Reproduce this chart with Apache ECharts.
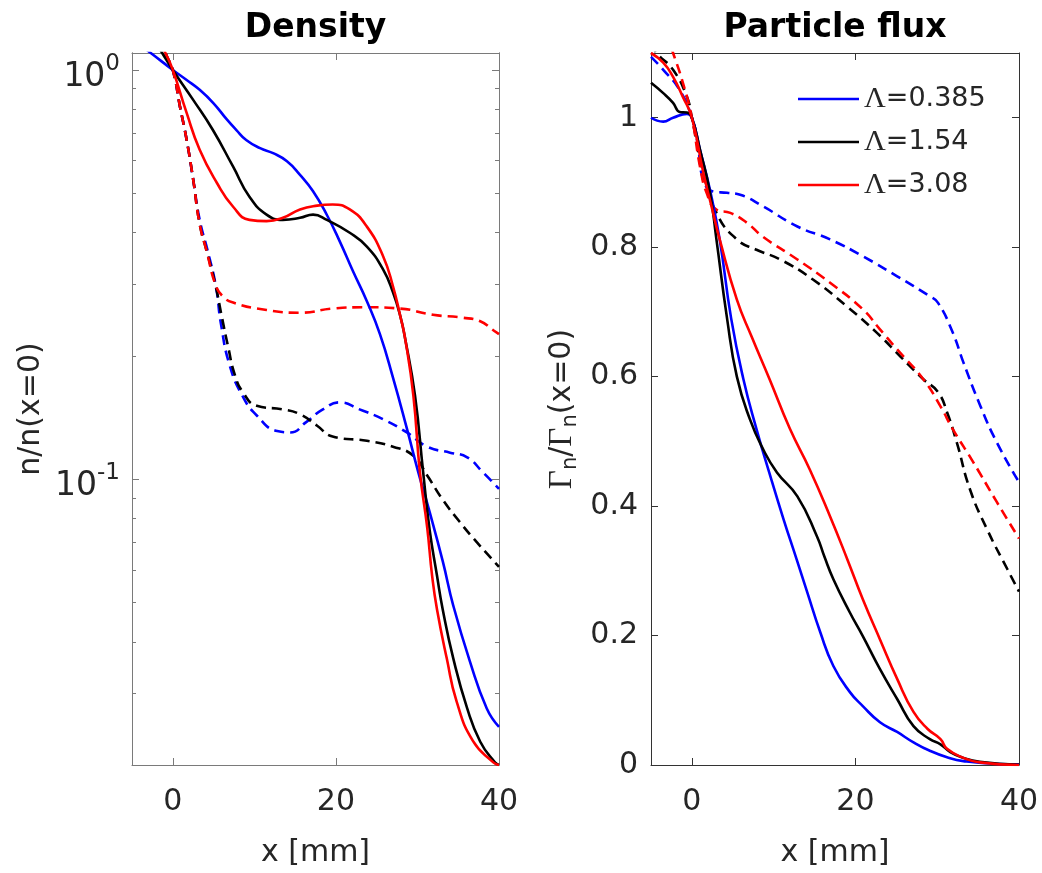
<!DOCTYPE html>
<html>
<head>
<meta charset="utf-8">
<script src="https://cdn.jsdelivr.net/npm/echarts@6/dist/echarts.min.js"></script>
<style>html,body{margin:0;padding:0;background:#fff;}#c{width:1042px;height:873px;}</style>
</head>
<body>
<div id="c"></div>
<script>
// ---------- Density (left panel), n/n(x=0) ----------
const nBlueX  = [-5, -2.7, 0, 1.7, 3.3, 5.0, 6.6, 7.8, 9.0, 10.7, 12.3, 14.0, 15.6, 17.2, 18.9, 20.5, 22.1, 23.8, 25.4, 27, 28.7, 30.1, 31.5, 33.1, 34.4, 36.4, 38.5, 40];
const nBlueY  = [1.19, 1.1, 1.0, 0.945, 0.894, 0.829, 0.758, 0.713, 0.674, 0.644, 0.626, 0.598, 0.554, 0.505, 0.442, 0.38, 0.322, 0.272, 0.226, 0.177, 0.133, 0.104, 0.083, 0.063, 0.049, 0.036, 0.0275, 0.0248];
const nBlackX = [-5, -1.3, 0, 2.5, 4.9, 7.4, 9.4, 11.5, 13.5, 15.6, 17.2, 18.9, 21.7, 23.8, 25.8, 27, 27.9, 28.5, 29.7, 30.7, 31.5, 32.4, 33.1, 34.4, 36.1, 37.7, 39.5, 40];
const nBlackY = [1.45, 1.1, 1.0, 0.845, 0.714, 0.58, 0.49, 0.443, 0.43, 0.435, 0.443, 0.43, 0.40, 0.37, 0.325, 0.286, 0.25, 0.22, 0.16, 0.104, 0.075, 0.058, 0.048, 0.0364, 0.0275, 0.0228, 0.0203, 0.020];
const nRedX   = [-5, -0.9, 0, 1.7, 3.3, 5.4, 7.4, 9.4, 11.5, 13.5, 15.6, 17.7, 19.6, 21.7, 23.8, 25.8, 27, 27.9, 28.5, 29.5, 30.3, 31.2, 31.8, 32.4, 33.6, 34.8, 36.8, 39.3, 40];
const nRedY   = [1.6, 1.1, 1.0, 0.785, 0.638, 0.53, 0.463, 0.43, 0.427, 0.435, 0.456, 0.466, 0.469, 0.456, 0.414, 0.35, 0.296, 0.25, 0.22, 0.16, 0.104, 0.076, 0.058, 0.048, 0.0364, 0.0286, 0.0229, 0.0203, 0.020];
const nBlueDX  = [-5, -0.9, 0, 0.9, 1.7, 2.5, 3.3, 4.3, 5.3, 5.9, 7.0, 8.6, 10.3, 12.8, 14.4, 16.4, 18.4, 20.5, 22.9, 25.8, 28.7, 31.2, 34, 36.1, 38, 40];
const nBlueDY  = [2.0, 1.1, 1.0, 0.81, 0.675, 0.54, 0.43, 0.36, 0.295, 0.24, 0.189, 0.159, 0.143, 0.131, 0.130, 0.138, 0.148, 0.154, 0.148, 0.14, 0.13, 0.12, 0.116, 0.113, 0.104, 0.0946];
const nBlackDX = [-5, -0.9, 0, 0.9, 1.7, 2.5, 3.3, 4.2, 5.2, 6.0, 6.8, 7.6, 8.6, 10.3, 13.5, 15.6, 17.7, 19.6, 23.8, 27, 29.5, 31.2, 33.1, 35.2, 37.3, 40];
const nBlackDY = [2.0, 1.1, 1.0, 0.81, 0.675, 0.54, 0.42, 0.358, 0.30, 0.25, 0.21, 0.18, 0.163, 0.151, 0.148, 0.144, 0.135, 0.127, 0.124, 0.12, 0.114, 0.102, 0.089, 0.0785, 0.070, 0.061];
const nRedDX   = [-5, -0.9, 0, 0.9, 1.7, 2.5, 3.3, 4.2, 5.2, 6.1, 7.4, 11.5, 15.6, 19.6, 23.8, 27.9, 31.9, 35.5, 37.7, 39.3, 40];
const nRedDY   = [2.0, 1.1, 1.0, 0.81, 0.675, 0.54, 0.42, 0.358, 0.30, 0.28, 0.27, 0.259, 0.255, 0.261, 0.263, 0.261, 0.252, 0.248, 0.243, 0.231, 0.226];

// ---------- Particle flux (right panel), Γn/Γn(x=0) ----------
const gBlueX  = [-5, -3.5, -2.3, -0.6, 0, 1.0, 2.2, 3.4, 4.8, 6.3, 7.9, 9.5, 11.2, 12.8, 14.1, 15.7, 17.3, 19.3, 20.9, 23, 25.1, 27.1, 29.1, 31.2, 33.2, 37.3, 40];
const gBlueY  = [1.0, 0.994, 1.0, 1.006, 1.0, 0.95, 0.889, 0.812, 0.69, 0.596, 0.519, 0.45, 0.38, 0.318, 0.267, 0.205, 0.153, 0.113, 0.091, 0.066, 0.051, 0.035, 0.022, 0.012, 0.006, 0.0015, 0.001];
const gBlackX = [-5, -3.5, -2.3, -1.5, -0.6, 0, 1.0, 2.2, 3.0, 4.3, 5.5, 7.1, 8.7, 10.4, 12.9, 15.3, 16.2, 17.3, 19.3, 20.9, 23, 25.1, 27.1, 29.1, 30.4, 31.6, 33.2, 35.2, 40];
const gBlackY = [1.054, 1.038, 1.023, 1.009, 1.008, 1.0, 0.95, 0.885, 0.812, 0.69, 0.6, 0.534, 0.488, 0.452, 0.415, 0.353, 0.322, 0.287, 0.236, 0.199, 0.148, 0.102, 0.060, 0.040, 0.032, 0.020, 0.011, 0.005, 0.0005];
const gRedX   = [-5, -3.5, -2.3, -1.1, 0, 1.4, 2.4, 3.4, 5.5, 7.3, 9.5, 12.0, 14.4, 16.9, 19.0, 20.9, 23, 25.1, 27.1, 28.8, 30.4, 31.2, 33.2, 35.2, 40];
const gRedY   = [1.1, 1.085, 1.063, 1.032, 1.0, 0.915, 0.863, 0.812, 0.719, 0.662, 0.596, 0.519, 0.457, 0.384, 0.318, 0.256, 0.194, 0.133, 0.082, 0.056, 0.040, 0.025, 0.011, 0.004, 0.0];
const gBlueDX  = [-5, -3.5, -1.5, 0, 0.7, 1.4, 2.6, 4.3, 5.9, 8.7, 12.9, 16.9, 20.9, 25.1, 29.1, 30.1, 31.9, 33.2, 35.3, 37.3, 40];
const gBlueDY  = [1.094, 1.074, 1.043, 1.0, 0.961, 0.904, 0.886, 0.884, 0.881, 0.863, 0.832, 0.812, 0.786, 0.755, 0.724, 0.714, 0.668, 0.622, 0.554, 0.498, 0.437];
const gBlackDX = [-5, -4.3, -2.3, -0.6, 0, 1.4, 3.0, 5.5, 7.9, 10.8, 14.8, 19.0, 22.6, 25.5, 28.3, 30.1, 31.2, 32.4, 34, 36.1, 38.6, 40];
const gBlackDY = [1.115, 1.1, 1.074, 1.032, 1.0, 0.915, 0.853, 0.812, 0.796, 0.781, 0.75, 0.708, 0.668, 0.631, 0.596, 0.576, 0.545, 0.498, 0.426, 0.364, 0.302, 0.268];
const gRedDX   = [-5, -2.3, -1.1, 0, 1.0, 1.8, 3.0, 4.7, 6.7, 8.7, 12.9, 16.9, 20.9, 23, 25.1, 28.3, 30.4, 31.9, 34.4, 37.3, 40];
const gRedDY   = [1.2, 1.1, 1.054, 1.0, 0.924, 0.884, 0.858, 0.853, 0.838, 0.816, 0.781, 0.745, 0.704, 0.673, 0.642, 0.596, 0.554, 0.519, 0.468, 0.406, 0.35];

// ---------- labels / ticks ----------
const lambdaNames = ['Λ=0.385', 'Λ=1.54', 'Λ=3.08'];
const xTickValues = [0, 20, 40];
const logMajorTicks = [0.1, 1];
const logMinorTicks = [0.03, 0.04, 0.05, 0.06, 0.07, 0.08, 0.09, 0.2, 0.3, 0.4, 0.5, 0.6, 0.7, 0.8, 0.9];
const fluxTicks = [0, 0.2, 0.4, 0.6, 0.8, 1];

const FONT = 'DejaVu Sans';
const TXT = '#262626';
const BLUE = '#0000ff', BLACK = '#000000', RED = '#ff0000';

function zip(xs, ys) { return xs.map((x, i) => [x, ys[i]]); }

function line(name, xs, ys, color, dashed, xi, yi) {
  return {
    type: 'line', name: name, data: zip(xs, ys), xAxisIndex: xi, yAxisIndex: yi,
    showSymbol: false, symbol: 'none', smooth: 0.5, clip: true, z: dashed ? 2 : 3,
    lineStyle: { color: color, width: 2.6, type: dashed ? [10, 6] : 'solid', cap: 'butt', join: 'round' },
    itemStyle: { color: color }
  };
}

const leftGrid = { left: 132, top: 53, width: 367, height: 713 };
const rightGrid = { left: 651, top: 53, width: 368, height: 713 };

function xAx(gi, pos, col, title) {
  const ax = {
    type: 'value', gridIndex: gi, min: -5, max: 40, position: pos,
    splitLine: { show: false },
    axisLine: { show: true, onZero: false, lineStyle: { color: col, width: 1 } },
    axisTick: { show: true, inside: true, length: 7, customValues: xTickValues, lineStyle: { color: col } },
    axisLabel: { show: pos === 'bottom', customValues: xTickValues, margin: 22, fontFamily: FONT, fontSize: 30, color: TXT }
  };
  if (pos === 'bottom') {
    ax.name = 'x [mm]'; ax.nameLocation = 'middle'; ax.nameGap = 73;
    ax.nameTextStyle = { fontFamily: FONT, fontSize: 30, color: TXT };
  } else {
    ax.name = title; ax.nameLocation = 'middle'; ax.nameGap = 8;
    ax.nameTextStyle = { fontFamily: FONT, fontSize: 33, fontWeight: 'bold', color: '#000' };
  }
  return ax;
}

function logAx(pos, ticks, len, col, withLabel) {
  const ax = {
    type: 'log', logBase: 10, gridIndex: 0, min: 0.02, max: 1.1, position: pos,
    splitLine: { show: false }, minorTick: { show: false },
    axisLine: { show: true, onZero: false, lineStyle: { color: col, width: 1 } },
    axisTick: { show: true, inside: true, length: len, customValues: ticks, lineStyle: { color: col } },
    axisLabel: { show: withLabel, customValues: logMajorTicks, margin: 12,
      formatter: function (v) { return '{b|10}{s|' + Math.round(Math.log10(v)) + '}'; },
      rich: {
        b: { fontFamily: FONT, fontSize: 33, color: TXT, padding: [14, 0, 0, 0] },
        s: { fontFamily: FONT, fontSize: 23, color: TXT, padding: [0, 0, 12, 0] }
      } }
  };
  if (withLabel) {
    ax.name = 'n/n(x=0)'; ax.nameLocation = 'middle'; ax.nameRotate = 90; ax.nameGap = 86;
    ax.nameTextStyle = { fontFamily: FONT, fontSize: 30, color: TXT };
  }
  return ax;
}

function fluxAx(pos, col, withLabel) {
  const ax = {
    type: 'value', gridIndex: 1, min: 0, max: 1.1, position: pos,
    splitLine: { show: false },
    axisLine: { show: true, onZero: false, lineStyle: { color: col, width: 1 } },
    axisTick: { show: true, inside: true, length: 7, customValues: fluxTicks, lineStyle: { color: col } },
    axisLabel: { show: withLabel, customValues: fluxTicks, margin: 13, fontFamily: FONT, fontSize: 30, color: TXT,
      formatter: function (v) { return String(Math.round(v * 10) / 10); } }
  };
  if (withLabel) {
    ax.name = '{g|Γ}{s|n}{t|/}{g|Γ}{s|n}{t|(x=0)}';
    ax.nameLocation = 'middle'; ax.nameRotate = 90; ax.nameGap = 70;
    ax.nameTextStyle = {
      color: TXT,
      rich: {
        g: { fontFamily: 'Liberation Serif', fontSize: 33, color: TXT },
        s: { fontFamily: FONT, fontSize: 21, color: TXT, padding: [16, 0, 0, 0] },
        t: { fontFamily: FONT, fontSize: 30, color: TXT }
      }
    };
  }
  return ax;
}

const LCOL = '#7a7a7a', RCOL = '#333333';

const option = {
  animation: false,
  backgroundColor: '#ffffff',
  grid: [leftGrid, rightGrid],
  xAxis: [
    xAx(0, 'bottom', LCOL), xAx(0, 'top', LCOL, 'Density'),
    xAx(1, 'bottom', RCOL), xAx(1, 'top', RCOL, 'Particle flux')
  ],
  yAxis: [
    logAx('left', logMajorTicks, 7, LCOL, true),
    logAx('right', logMajorTicks, 7, LCOL, false),
    logAx('left', logMinorTicks, 4, LCOL, false),
    logAx('right', logMinorTicks, 4, LCOL, false),
    fluxAx('left', RCOL, true),
    fluxAx('right', RCOL, false)
  ],
  legend: {
    data: lambdaNames, orient: 'vertical', left: 798, top: 83, padding: 0,
    icon: 'rect', itemWidth: 61, itemHeight: 2.6, itemGap: 11,
    formatter: function (n) { return '{g|Λ}{t|' + n.slice(1) + '}'; },
    textStyle: { lineHeight: 32, rich: {
      g: { fontFamily: 'Liberation Serif', fontSize: 30, color: TXT },
      t: { fontFamily: FONT, fontSize: 27, color: TXT }
    } }
  },
  series: [
    line('nd1', nBlueDX, nBlueDY, BLUE, true, 0, 0),
    line('nd2', nBlackDX, nBlackDY, BLACK, true, 0, 0),
    line('nd3', nRedDX, nRedDY, RED, true, 0, 0),
    line('ns1', nBlueX, nBlueY, BLUE, false, 0, 0),
    line('ns2', nBlackX, nBlackY, BLACK, false, 0, 0),
    line('ns3', nRedX, nRedY, RED, false, 0, 0),
    line('gd1', gBlueDX, gBlueDY, BLUE, true, 2, 4),
    line('gd2', gBlackDX, gBlackDY, BLACK, true, 2, 4),
    line('gd3', gRedDX, gRedDY, RED, true, 2, 4),
    line(lambdaNames[0], gBlueX, gBlueY, BLUE, false, 2, 4),
    line(lambdaNames[1], gBlackX, gBlackY, BLACK, false, 2, 4),
    line(lambdaNames[2], gRedX, gRedY, RED, false, 2, 4)
  ]
};

const chart = echarts.init(document.getElementById('c'), null, { renderer: 'canvas' });
chart.setOption(option);
</script>
</body>
</html>
